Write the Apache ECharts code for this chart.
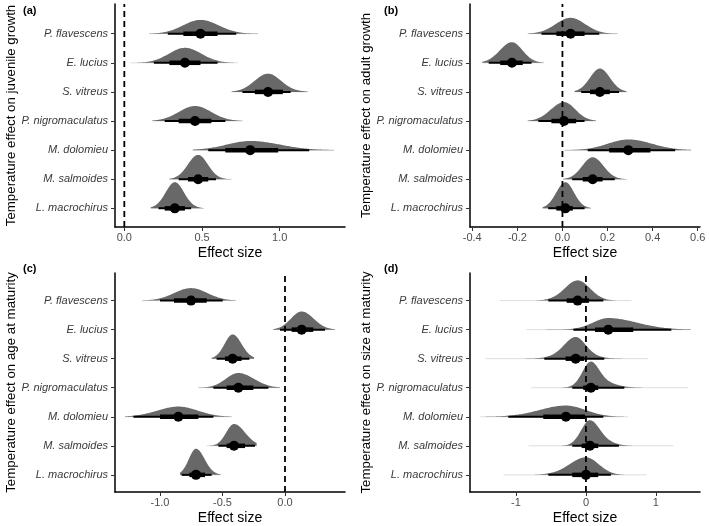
<!DOCTYPE html>
<html>
<head>
<meta charset="utf-8">
<script src="https://cdn.jsdelivr.net/npm/echarts@6/dist/echarts.min.js"></script>
<style>
  html, body { margin: 0; padding: 0; background: #fff; }
  #chart { width: 709px; height: 526px; }
</style>
</head>
<body>
<div id="chart"></div>
<script>
// species, top row first
const species = ['P. flavescens', 'E. lucius', 'S. vitreus', 'P. nigromaculatus', 'M. dolomieu', 'M. salmoides', 'L. macrochirus']

// (a) juvenile growth
const aMed = [0.49, 0.39, 0.925, 0.455, 0.81, 0.475, 0.325]
const aLo66 = [0.38, 0.29, 0.84, 0.35, 0.65, 0.41, 0.26]
const aHi66 = [0.60, 0.49, 1.02, 0.56, 0.99, 0.54, 0.39]
const aLo95 = [0.28, 0.19, 0.76, 0.26, 0.54, 0.35, 0.22]
const aHi95 = [0.72, 0.60, 1.07, 0.65, 1.19, 0.59, 0.43]
const aSlabLo = [0.16, 0.04, 0.69, 0.18, 0.44, 0.29, 0.17]
const aSlabHi = [0.86, 0.73, 1.18, 0.76, 1.35, 0.69, 0.51]

// (b) adult growth
const bMed = [0.036, -0.224, 0.166, 0.007, 0.292, 0.134, 0.013]
const bLo66 = [-0.027, -0.276, 0.122, -0.049, 0.207, 0.09, -0.027]
const bHi66 = [0.098, -0.176, 0.21, 0.061, 0.39, 0.178, 0.046]
const bLo95 = [-0.093, -0.327, 0.083, -0.107, 0.112, 0.043, -0.063]
const bHi95 = [0.163, -0.137, 0.251, 0.098, 0.50, 0.232, 0.098]
const bSlabLo = [-0.154, -0.356, 0.054, -0.154, 0.01, 0.003, -0.088]
const bSlabHi = [0.244, -0.083, 0.284, 0.149, 0.57, 0.284, 0.127]

// (c) age at maturity
const cMed = [-0.752, 0.133, -0.419, -0.373, -0.853, -0.408, -0.712]
const cLo66 = [-0.888, 0.053, -0.48, -0.467, -1.0, -0.467, -0.765]
const cHi66 = [-0.626, 0.226, -0.347, -0.253, -0.693, -0.32, -0.64]
const cLo95 = [-1.0, -0.04, -0.547, -0.573, -1.213, -0.533, -0.827]
const cHi95 = [-0.498, 0.32, -0.285, -0.133, -0.573, -0.24, -0.587]
const cSlabLo = [-1.146, -0.093, -0.587, -0.693, -1.28, -0.627, -0.84]
const cSlabHi = [-0.392, 0.40, -0.248, -0.04, -0.427, -0.227, -0.514]

// (d) size at maturity
const dMed = [-0.119, 0.319, -0.147, 0.071, -0.286, 0.057, 0.0]
const dLo66 = [-0.276, 0.13, -0.29, -0.038, -0.61, -0.062, -0.195]
const dHi66 = [0.043, 0.676, -0.024, 0.176, -0.014, 0.176, 0.176]
const dLo95 = [-0.538, -0.18, -0.595, -0.195, -1.11, -0.195, -0.538]
const dHi95 = [0.248, 1.22, 0.262, 0.548, 0.248, 0.471, 0.357]
const dSlabLo = [-1.23, -0.85, -1.44, -0.78, -1.51, -0.82, -1.18]
const dSlabHi = [0.65, 1.5, 0.89, 1.46, 0.6, 1.25, 0.87]

// tick labels
const aTicks = [0, 0.5, 1.0]
const bTicks = [-0.4, -0.2, 0, 0.2, 0.4, 0.6]
const cTicks = [-1.0, -0.5, 0]
const dTicks = [-1, 0, 1]

const yTitles = [
    'Temperature effect on juvenile growth',
    'Temperature effect on adult growth',
    'Temperature effect on age at maturity',
    'Temperature effect on size at maturity',
]

const panels = [
    { tag: '(a)', tagPos: [23, 5], med: aMed, lo66: aLo66, hi66: aHi66, lo95: aLo95, hi95: aHi95, sLo: aSlabLo, sHi: aSlabHi,
      ticks: aTicks, digits: 1, xMin: -0.06, xMax: 1.42, yMin: 0.36, yMax: 8.02,
      grid: { left: 115, width: 230, top: 4, height: 223 } },
    { tag: '(b)', tagPos: [384, 5], med: bMed, lo66: bLo66, hi66: bHi66, lo95: bLo95, hi95: bHi95, sLo: bSlabLo, sHi: bSlabHi,
      ticks: bTicks, digits: 1, xMin: -0.41, xMax: 0.61, yMin: 0.36, yMax: 8.02,
      grid: { left: 470, width: 230, top: 4, height: 223 } },
    { tag: '(c)', tagPos: [23, 263], med: cMed, lo66: cLo66, hi66: cHi66, lo95: cLo95, hi95: cHi95, sLo: cSlabLo, sHi: cSlabHi,
      ticks: cTicks, digits: 1, xMin: -1.36, xMax: 0.48, yMin: 0.41, yMax: 7.95,
      grid: { left: 115, width: 230, top: 273, height: 220 } },
    { tag: '(d)', tagPos: [384, 263], med: dMed, lo66: dLo66, hi66: dHi66, lo95: dLo95, hi95: dHi95, sLo: dSlabLo, sHi: dSlabHi,
      ticks: dTicks, digits: 0, xMin: -1.657, xMax: 1.63, yMin: 0.41, yMax: 7.95,
      grid: { left: 470, width: 230, top: 273, height: 220 } },
]

const FONT = "'Liberation Sans', Arial, sans-serif"
const SLAB = '#686868'

// slab density: two-piece normal mixture from the 66% and 95% intervals
const gauss = (z) => Math.exp(-0.5 * z * z) / Math.sqrt(2 * Math.PI)
function density(p, i, x) {
    const m = p.med[i]
    const a1 = (m - p.lo66[i]) / 0.954, b1 = (p.hi66[i] - m) / 0.954
    const a2 = (m - p.lo95[i]) / 1.96, b2 = (p.hi95[i] - m) / 1.96
    const s1 = x < m ? a1 : b1
    const s2 = x < m ? a2 : b2
    return 0.5 * gauss((x - m) / s1) * 2 / (a1 + b1) + 0.5 * gauss((x - m) / s2) * 2 / (a2 + b2)
}

const STEPS = 120
panels.forEach((p) => {
    p.curves = species.map((s, i) => {
        const pts = []
        for (let k = 0; k <= STEPS; k++) {
            const x = p.sLo[i] + (p.sHi[i] - p.sLo[i]) * k / STEPS
            pts.push([x, density(p, i, x)])
        }
        return pts
    })
    let mx = 0
    p.curves.forEach((c) => c.forEach((d) => { mx = Math.max(mx, d[1]) }))
    p.hScale = 0.9 / mx
})

const rowOf = (i) => species.length - i

const option = {
    animation: false,
    backgroundColor: '#fff',
    textStyle: { fontFamily: FONT },
    title: panels.map((p) => ({
        text: p.tag,
        left: p.tagPos[0],
        top: p.tagPos[1],
        padding: 0,
        textStyle: { fontFamily: FONT, fontSize: 11, fontWeight: 'bold', color: '#000' },
    })),
    grid: panels.map((p) => p.grid),
    xAxis: panels.map((p, k) => ({
        type: 'value',
        gridIndex: k,
        min: p.xMin,
        max: p.xMax,
        name: 'Effect size',
        nameLocation: 'middle',
        nameGap: 19,
        nameTextStyle: { fontFamily: FONT, fontSize: 14, color: '#000' },
        splitLine: { show: false },
        axisLine: { lineStyle: { color: '#000', width: 1.5 } },
        axisTick: { customValues: p.ticks, length: 4, lineStyle: { color: '#333', width: 1 } },
        axisLabel: {
            customValues: p.ticks,
            margin: 5,
            fontSize: 11,
            color: '#4d4d4d',
            fontFamily: FONT,
            formatter: (v) => Number(v).toFixed(p.digits),
        },
    })),
    yAxis: panels.map((p, k) => ({
        type: 'value',
        gridIndex: k,
        min: p.yMin,
        max: p.yMax,
        name: yTitles[k],
        nameLocation: 'middle',
        nameGap: 94,
        nameTextStyle: { fontFamily: FONT, fontSize: 13.3, color: '#000' },
        splitLine: { show: false },
        axisLine: { onZero: false, lineStyle: { color: '#000', width: 1.5 } },
        axisTick: { customValues: [1, 2, 3, 4, 5, 6, 7], length: 4, lineStyle: { color: '#333', width: 1 } },
        axisLabel: {
            customValues: [1, 2, 3, 4, 5, 6, 7],
            margin: 7,
            fontSize: 11,
            fontStyle: 'italic',
            color: '#3a3a3a',
            fontFamily: FONT,
            formatter: (v) => species[species.length - Math.round(v)],
        },
    })),
    series: [],
}

panels.forEach((p, k) => {
    const idx = species.map((s, i) => [i])
    // slabs
    option.series.push({
        type: 'custom',
        xAxisIndex: k,
        yAxisIndex: k,
        z: 2,
        silent: true,
        data: idx,
        renderItem: (params, api) => {
            const i = api.value(0)
            const row = rowOf(i)
            const pts = p.curves[i].map((d) => api.coord([d[0], row + d[1] * p.hScale]))
            pts.push(api.coord([p.sHi[i], row]))
            pts.unshift(api.coord([p.sLo[i], row]))
            const a = api.coord([p.sLo[i], row])
            const b = api.coord([p.sHi[i], row])
            return {
                type: 'group',
                children: [
                    { type: 'line', shape: { x1: a[0], y1: a[1], x2: b[0], y2: b[1] },
                      style: { stroke: '#dedede', lineWidth: 1 } },
                    { type: 'polygon', shape: { points: pts }, style: { fill: SLAB } },
                ],
            }
        },
    })
    // zero reference line
    option.series.push({
        type: 'custom',
        xAxisIndex: k,
        yAxisIndex: k,
        z: 3,
        silent: true,
        data: [[0]],
        renderItem: (params, api) => {
            const a = api.coord([api.value(0), p.yMin])
            const b = api.coord([api.value(0), p.yMax])
            return {
                type: 'line',
                shape: { x1: a[0], y1: a[1], x2: b[0], y2: b[1] },
                style: { stroke: '#000', lineWidth: 1.8, lineDash: [6, 4] },
            }
        },
    })
    // intervals and point
    option.series.push({
        type: 'custom',
        xAxisIndex: k,
        yAxisIndex: k,
        z: 4,
        silent: true,
        data: idx,
        renderItem: (params, api) => {
            const i = api.value(0)
            const row = rowOf(i)
            const t1 = api.coord([p.lo95[i], row]), t2 = api.coord([p.hi95[i], row])
            const k1 = api.coord([p.lo66[i], row]), k2 = api.coord([p.hi66[i], row])
            const c = api.coord([p.med[i], row])
            return {
                type: 'group',
                children: [
                    { type: 'line', shape: { x1: t1[0], y1: t1[1], x2: t2[0], y2: t2[1] },
                      style: { stroke: '#000', lineWidth: 2 } },
                    { type: 'line', shape: { x1: k1[0], y1: k1[1], x2: k2[0], y2: k2[1] },
                      style: { stroke: '#000', lineWidth: 4.5 } },
                    { type: 'circle', shape: { cx: c[0], cy: c[1], r: 5 }, style: { fill: '#000' } },
                ],
            }
        },
    })
})

const chart = echarts.init(document.getElementById('chart'), null, { renderer: 'canvas' })
chart.setOption(option)
</script>
</body>
</html>
